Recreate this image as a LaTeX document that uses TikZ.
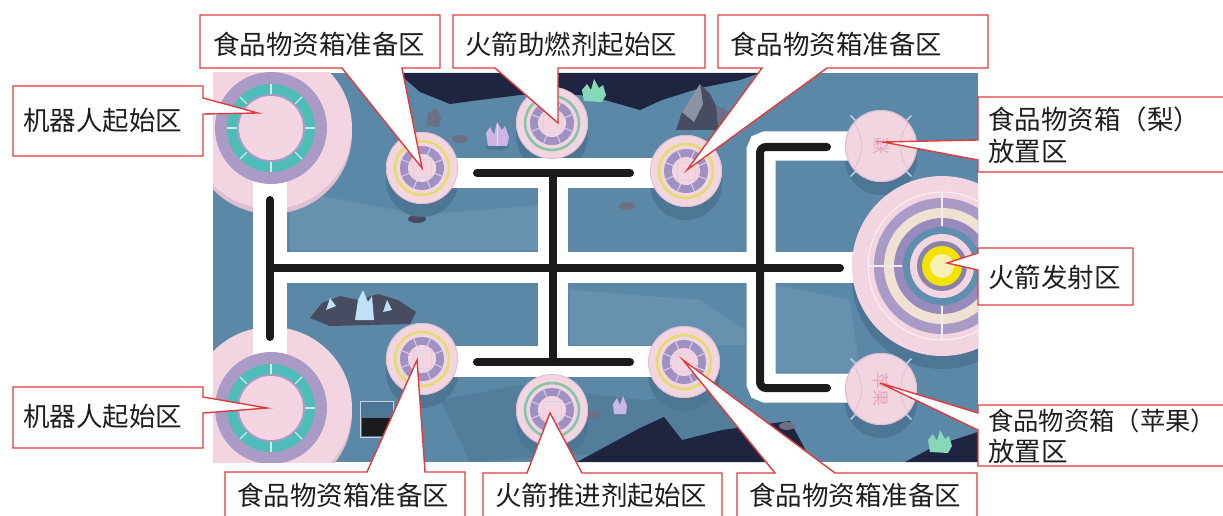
\documentclass[tikz,border=0pt]{standalone}
\usepackage{fontspec}
\newfontfamily\cjk{Noto Sans CJK SC}
\definecolor{mapblue}{HTML}{5B88A6}
\definecolor{mapsoft}{HTML}{6692B0}
\definecolor{mapshade}{HTML}{4C7693}
\definecolor{navy}{HTML}{1F2541}
\definecolor{padpink}{HTML}{F2D5E0}
\definecolor{padedge}{HTML}{DDBFD1}
\definecolor{lavender}{HTML}{A99BC6}
\definecolor{darklav}{HTML}{978BBD}
\definecolor{tealring}{HTML}{4EBDB8}
\definecolor{tealline}{HTML}{C9EEEA}
\definecolor{segpurple}{HTML}{9F92C2}
\definecolor{seglight}{HTML}{D9D0EA}
\definecolor{yellowring}{HTML}{E4DD6A}
\definecolor{greenring}{HTML}{86C6A8}
\definecolor{beige}{HTML}{EFE2D3}
\definecolor{launchblue}{HTML}{5E8FAE}
\definecolor{graypurple}{HTML}{8A82A8}
\definecolor{sunyellow}{HTML}{F4E300}
\definecolor{paleyellow}{HTML}{F7F0B4}
\definecolor{tickblue}{HTML}{B8CDE2}
\definecolor{labelpink}{HTML}{E2A7C0}
\definecolor{trackblack}{HTML}{1B1B1D}
\definecolor{calloutred}{HTML}{E13B3B}
\definecolor{textdark}{HTML}{1E1E1E}
\definecolor{rockdark}{HTML}{474C60}
\definecolor{rockmid}{HTML}{6A7085}
\definecolor{rocklight}{HTML}{8D92A3}
\definecolor{crystalpurple}{HTML}{CDB6E6}
\definecolor{crystalgreen}{HTML}{86D8B8}
\definecolor{crystalblue}{HTML}{BFE1F6}

% starting pad of a robot: pink base and the ringed centre
\newcommand{\RobotBase}[2]{%
  \begin{scope}[shift={(#1,#2)}]
    \fill[padedge] (0,5) circle[radius=81pt];
    \fill[padpink] (0,0) circle[radius=81pt];
  \end{scope}}
\newcommand{\RobotRing}[2]{%
  \begin{scope}[shift={(#1,#2)}]
    \fill[lavender] (0,0) circle[radius=56pt];
    \fill[tealring] (0,0) circle[radius=44pt];
    \foreach \a in {0,45,...,315} \draw[tealline, line width=1.2pt] (\a:34pt) -- (\a:44pt);
    \fill[lavender] (0,0) circle[radius=34pt];
    \fill[padpink] (0,0) circle[radius=32pt];
  \end{scope}}
% shadow under a raised pad
\newcommand{\PadShadow}[3]{%
  \fill[mapshade] (#1,#2) ++(0,13) circle[radius=#3pt];}
% small pad with a coloured ring and a segmented centre
\newcommand{\RingPad}[3]{%
  \begin{scope}[shift={(#1,#2)}]
    \fill[padpink] (0,0) circle[radius=36pt];
    \draw[padedge, line width=0.8pt] (0,0) circle[radius=35.5pt];
    \draw[#3, line width=2.6pt] (0,0) circle[radius=27pt];
    \fill[segpurple] (0,0) circle[radius=22pt];
    \foreach \a in {22.5,67.5,...,337.5} \draw[seglight, line width=1pt] (\a:14pt) -- (\a:22pt);
    \fill[padpink] (0,0) circle[radius=14pt];
    \draw[seglight, line width=0.8pt] (-9,-9) rectangle (9,9);
  \end{scope}}
% drop-off pad with its fruit name
\newcommand{\PlacePad}[5]{%
  \begin{scope}[shift={(#1,#2)}]
    \foreach \a in {45,135,225,315} \draw[tickblue, line width=1.6pt] (\a:32pt) -- (\a:43pt);
    \fill[padpink] (0,0) circle[radius=36pt];
    \draw[padedge, line width=1pt] (0,0) circle[radius=35.5pt];
    \draw[padedge, line width=0.8pt] (-27,-23) .. controls (-17,-8) and (-17,8) .. (-27,23);
    \draw[padedge, line width=0.8pt] (27,-23) .. controls (17,-8) and (17,8) .. (27,23);
    \node (#4) [font=\cjk\fontsize{17}{17}\selectfont, text=labelpink, inner sep=0pt, rotate=#5] at (0,0) {#3};
  \end{scope}}

\begin{document}
\begin{tikzpicture}[x=1pt,y=-1pt,
  calloutbox/.style={draw=calloutred, fill=white, line width=1.4pt, line join=miter},
  tagtext/.style={font=\cjk\fontsize{26.5}{31}\selectfont, text=textdark, anchor=west, inner sep=0pt},
  roadw/.style={draw=white, line width=#1pt},
  trackb/.style={draw=trackblack, line width=8pt, line cap=round, rounded corners=6pt}]
\useasboundingbox (0,0) rectangle (1223,516);
\fill[white] (0,0) rectangle (1223,516);

% ---------------- game board ----------------
\begin{scope}
  \clip (213,73) rectangle (978,462);
  \fill[mapblue] (213,73) rectangle (978,462);
  % terrain shading
  \fill[mapsoft] (290,190) -- (420,215) -- (540,205) -- (540,250) -- (290,250) -- cycle;
  \fill[mapsoft] (570,290) -- (700,300) -- (745,330) -- (745,345) -- (570,345) -- cycle;
  \fill[mapsoft] (775,285) -- (850,300) -- (860,372) -- (775,372) -- cycle;
  \fill[mapshade!60!mapblue] (440,400) -- (520,385) -- (640,400) -- (720,395) -- (800,440) -- (470,462) -- cycle;
  % dark sky at the top and cliffs at the bottom
  \fill[navy] (398,73) -- (760,73) -- (740,80) -- (700,88) -- (662,100) -- (640,110) -- (605,100) -- (580,95)
    -- (520,95) -- (480,100) -- (450,104) -- (420,92) -- cycle;
  \fill[navy] (577,462) -- (640,428) -- (664,417) -- (682,440) -- (722,430) -- (790,421) -- (812,462) -- cycle;
  \fill[navy] (905,462) -- (935,446) -- (978,432) -- (978,462) -- cycle;

  % rocks and crystals
  \fill[rockmid] (426,126) -- (428,113) -- (436,108) -- (441,117) -- (439,127) -- cycle;
  \fill[rockmid] (460,139) ellipse[x radius=8pt, y radius=4pt];
  \fill[rockdark] (417,219) ellipse[x radius=9pt, y radius=4pt];
  \fill[rockmid] (627,206) ellipse[x radius=8pt, y radius=4pt];
  \fill[mapshade] (497,147) ellipse[x radius=12pt, y radius=3pt];
  \fill[crystalpurple] (488,146) -- (486,133) -- (490,127) -- (494,135) -- (497,122) -- (502,130)
    -- (505,126) -- (509,137) -- (507,146) -- cycle;
  \draw[white!55!crystalpurple, line width=0.8pt] (497,124) -- (497,146);
  \fill[crystalgreen] (584,101) -- (582,90) -- (587,84) -- (591,90) -- (594,79) -- (599,88)
    -- (603,85) -- (606,95) -- (602,102) -- cycle;
  \fill[rockdark] (676,130) -- (682,112) -- (692,96) -- (700,84) -- (710,94) -- (716,106) -- (726,110)
    -- (734,130) -- cycle;
  \fill[rocklight] (692,96) -- (700,84) -- (703,104) -- (694,122) -- (682,112) -- cycle;
  \fill[rockmid] (716,106) -- (726,110) -- (734,130) -- (718,128) -- cycle;
  \fill[rockdark] (310,318) -- (322,303) -- (340,296) -- (358,300) -- (378,294) -- (398,300) -- (416,312)
    -- (410,324) -- (330,326) -- cycle;
  \fill[crystalblue] (326,310) -- (330,298) -- (336,306) -- cycle;
  \fill[crystalblue] (355,320) -- (358,300) -- (363,290) -- (368,302) -- (372,296) -- (374,320) -- cycle;
  \fill[crystalblue] (383,312) -- (387,300) -- (392,310) -- cycle;
  \fill[rockmid] (593,414) ellipse[x radius=8pt, y radius=4pt];
  \fill[crystalpurple] (614,414) -- (613,404) -- (617,398) -- (620,405) -- (623,396) -- (627,406) -- (626,414) -- cycle;
  \fill[rockmid] (787,426) ellipse[x radius=8pt, y radius=4pt];
  \fill[crystalgreen] (930,452) -- (928,440) -- (933,434) -- (937,441) -- (940,430) -- (945,439)
    -- (949,436) -- (952,446) -- (948,453) -- cycle;
  % notice board
  \draw[white!65!mapblue, line width=1pt, fill=mapshade] (360,401) rectangle (393,437);
  \fill[trackblack] (362,418) rectangle (391,436);

  % shadows under the raised pads
  \PadShadow{422}{168}{36}
  \PadShadow{686}{171}{36}
  \PadShadow{422}{359}{36}
  \PadShadow{684}{362}{36}
  \PadShadow{552}{123}{36}
  \PadShadow{552}{410}{36}
  \PadShadow{881}{146}{36}
  \PadShadow{881}{389}{36}
  \PadShadow{942}{266}{90}

  % robot start bases
  \RobotBase{271}{128}
  \RobotBase{271}{408}

  % white lanes
  \draw[roadw=34] (270,180) -- (270,356);
  \draw[roadw=31] (253,267.5) -- (862,267.5);
  \draw[roadw=30] (440,173) -- (670,173);
  \draw[roadw=31] (440,361) -- (670,361);
  \draw[roadw=30] (553,173) -- (553,361);
  \draw[roadw=29, rounded corners=5pt] (862,146) -- (761,146) -- (761,388) -- (862,388);

  % black guide lines
  \draw[trackb] (270,200) -- (270,337);
  \draw[trackb] (270,268) -- (840,268);
  \draw[trackb] (477,173) -- (630,173);
  \draw[trackb] (477,362) -- (630,362);
  \draw[trackb] (553,173) -- (553,362);
  \draw[trackb] (827,147) -- (760,147) -- (760,388) -- (827,388);

  % robot start rings
  \RobotRing{271}{128}
  \RobotRing{271}{408}

  % supply box pads and propellant pads
  \RingPad{422}{168}{yellowring}
  \RingPad{686}{171}{yellowring}
  \RingPad{422}{359}{yellowring}
  \RingPad{684}{362}{yellowring}
  \RingPad{552}{123}{greenring}
  \RingPad{552}{410}{greenring}

  % drop-off pads
  \PlacePad{881}{146}{梨}{pear}{0}
  \PlacePad{881}{389}{苹果}{apple}{-90}

  % launch pad
  \begin{scope}[shift={(942,266)}]
    \fill[padpink] (0,0) circle[radius=90pt];
    \draw[white!70!padpink, line width=1pt] (0,0) circle[radius=74pt];
    \fill[lavender] (0,0) circle[radius=68pt];
    \fill[beige] (0,0) circle[radius=58pt];
    \fill[darklav] (0,0) circle[radius=48pt];
    \fill[launchblue] (0,0) circle[radius=39pt];
    \foreach \a in {90,180,270} \draw[white!80!lavender, line width=1.2pt] (\a:40pt) -- (\a:74pt);
    \fill[padpink] (0,0) circle[radius=32pt];
    \fill[graypurple] (0,0) circle[radius=25pt];
    \fill[sunyellow] (0,0) circle[radius=20pt];
    \fill[paleyellow] (0,0) circle[radius=12pt];
  \end{scope}
\end{scope}

% ---------------- callouts ----------------
\draw[calloutbox] (13,86) -- (203,86) -- (203,98) -- (258,113) -- (203,114) -- (203,156) -- (13,156) -- cycle;
\node[tagtext] (tA) at (23,120.5) {机器人起始区};

\draw[calloutbox] (13,387) -- (203,387) -- (203,397) -- (267,408) -- (203,413) -- (203,448) -- (13,448) -- cycle;
\node[tagtext] (tH) at (23,416.5) {机器人起始区};

\draw[calloutbox] (200,15) -- (440,15) -- (440,68) -- (402,68) -- (422,168) -- (342,68) -- (200,68) -- cycle;
\node[tagtext] (tB) at (213,44.5) {食品物资箱准备区};

\draw[calloutbox] (453,15) -- (705,15) -- (705,68) -- (558,68) -- (558,123) -- (495,68) -- (453,68) -- cycle;
\node[tagtext] (tC) at (465,44.5) {火箭助燃剂起始区};

\draw[calloutbox] (718,15) -- (988,15) -- (988,68) -- (827,68) -- (687,170) -- (762,68) -- (718,68) -- cycle;
\node[tagtext] (tD) at (730,44.5) {食品物资箱准备区};

\draw[calloutbox] (978,97) -- (1240,97) -- (1240,172) -- (978,172) -- (978,160) -- (883,142) -- (978,140) -- cycle;
\node[tagtext] (tE1) at (988,119.5) {食品物资箱（梨）};
\node[tagtext] (tE2) at (988,151) {放置区};

\draw[calloutbox] (978,248) -- (1133,248) -- (1133,305) -- (978,305) -- (978,270) -- (947,263) -- (978,253) -- cycle;
\node[tagtext] (tF) at (988,277) {火箭发射区};

\draw[calloutbox] (978,405) -- (1240,405) -- (1240,466) -- (978,466) -- (978,430) -- (880,383) -- (978,413) -- cycle;
\node[tagtext, font=\cjk\fontsize{25.3}{31}\selectfont] (tG1) at (988,420.5) {食品物资箱（苹果）};
\node[tagtext] (tG2) at (988,451) {放置区};

\draw[calloutbox] (225,472) -- (367,472) -- (417,360) -- (425,472) -- (465,472) -- (465,530) -- (225,530) -- cycle;
\node[tagtext] (tI) at (237,495) {食品物资箱准备区};

\draw[calloutbox] (483,473) -- (527,473) -- (550,413) -- (582,473) -- (722,473) -- (722,530) -- (483,530) -- cycle;
\node[tagtext] (tJ) at (495,495) {火箭推进剂起始区};

\draw[calloutbox] (737,473) -- (775,473) -- (683,360) -- (835,473) -- (977,473) -- (977,530) -- (737,530) -- cycle;
\node[tagtext] (tK) at (749,495) {食品物资箱准备区};
\end{tikzpicture}
\end{document}
